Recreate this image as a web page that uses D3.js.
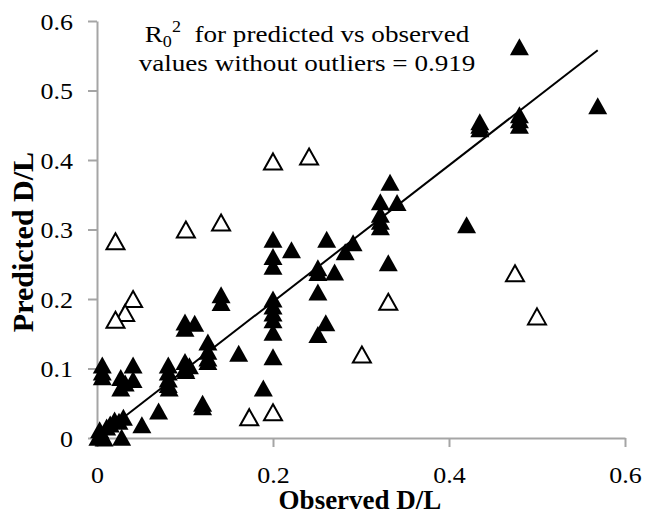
<!DOCTYPE html>
<html lang="en">
<head>
  <meta charset="UTF-8">
  <title>Predicted vs observed D/L</title>
  <style>
    body { margin: 0; background: #fff; }
    .axis path, .axis line { stroke: #a5a5a5; stroke-width: 2px; }
  </style>
</head>
<body>
  <svg id="chart" width="645" height="514"></svg>

  <script src="https://cdnjs.cloudflare.com/ajax/libs/d3/7.8.5/d3.min.js"></script>
  <script>
    // points kept in the R0² fit (filled triangles): [observed, predicted]
    const includedPoints = [
      [0.001, 0.001], [0.003, 0.012], [0.005, 0.005], [0.008, 0.0], [0.011, 0.016],
      [0.015, 0.02], [0.02, 0.026], [0.025, 0.024], [0.028, 0.001], [0.03, 0.03],
      [0.051, 0.019],
      [0.006, 0.105], [0.006, 0.095], [0.006, 0.088],
      [0.027, 0.087], [0.027, 0.072], [0.032, 0.079], [0.041, 0.084], [0.041, 0.105],
      [0.07, 0.039],
      [0.081, 0.105], [0.081, 0.095], [0.081, 0.085], [0.081, 0.077], [0.082, 0.072],
      [0.1, 0.11], [0.1, 0.1], [0.101, 0.097], [0.105, 0.104],
      [0.1, 0.167], [0.1, 0.158], [0.111, 0.165],
      [0.12, 0.05], [0.12, 0.045],
      [0.126, 0.138], [0.126, 0.125], [0.126, 0.115], [0.126, 0.11],
      [0.141, 0.206], [0.141, 0.195],
      [0.161, 0.122],
      [0.189, 0.072],
      [0.2, 0.286], [0.2, 0.261], [0.2, 0.247], [0.2, 0.2], [0.2, 0.19], [0.2, 0.18],
      [0.2, 0.17], [0.2, 0.152], [0.2, 0.117],
      [0.221, 0.271],
      [0.251, 0.245], [0.251, 0.238], [0.251, 0.21], [0.251, 0.149],
      [0.261, 0.286], [0.26, 0.166],
      [0.27, 0.239],
      [0.282, 0.268],
      [0.291, 0.281],
      [0.322, 0.34], [0.322, 0.322], [0.322, 0.312], [0.322, 0.304],
      [0.333, 0.368], [0.341, 0.339],
      [0.331, 0.252],
      [0.42, 0.307],
      [0.435, 0.455], [0.435, 0.45], [0.435, 0.445],
      [0.48, 0.563], [0.48, 0.465], [0.48, 0.458], [0.48, 0.45],
      [0.569, 0.478]
    ];

    // outliers (open triangles)
    const outlierPoints = [
      [0.021, 0.283], [0.101, 0.3], [0.141, 0.31], [0.2, 0.398], [0.241, 0.405],
      [0.041, 0.2], [0.032, 0.18], [0.021, 0.17],
      [0.173, 0.03], [0.2, 0.037], [0.301, 0.12], [0.331, 0.196],
      [0.475, 0.237], [0.5, 0.175]
    ];

    // zero-intercept trend line endpoints
    const trendLine = [[0, 0], [0.569, 0.558]];

    const xTicks = [0, 0.2, 0.4, 0.6];
    const yTicks = [0, 0.1, 0.2, 0.3, 0.4, 0.5, 0.6];

    const titleLines = ["for predicted vs observed", "values without outliers = 0.919"];

    const serif = "'Liberation Serif', 'Times New Roman', Times, serif";
    const sx = 1.13; // the original's regular text is a little wider than Times

    const svg = d3.select("#chart");
    const x = d3.scaleLinear().domain([0, 0.6]).range([97, 625]);
    const y = d3.scaleLinear().domain([0, 0.6]).range([438, 21]);

    svg.append("rect").attr("width", 645).attr("height", 514).attr("fill", "#fff");

    const fmt = d => d === 0 ? "0" : d3.format(".1f")(d);

    // axes
    svg.append("g")
      .attr("class", "axis")
      .attr("transform", `translate(0,${y(0)})`)
      .call(d3.axisBottom(x).tickValues(xTicks).tickSize(9).tickSizeOuter(0).tickFormat(fmt))
      .call(g => g.selectAll("text")
        .attr("dy", 0).attr("y", 45).attr("x", 0)
        .attr("transform", `scale(${sx},1)`)
        .style("font-family", serif).style("font-size", "23px").style("fill", "#000"));

    svg.append("g")
      .attr("class", "axis")
      .attr("transform", `translate(${x(0)},0)`)
      .call(d3.axisLeft(y).tickValues(yTicks).tickSize(9).tickSizeOuter(0).tickFormat(fmt))
      .call(g => g.selectAll("text")
        .attr("x", -24 / sx).attr("dy", "0.36em")
        .attr("transform", `scale(${sx},1)`)
        .style("font-family", serif).style("font-size", "23px").style("fill", "#000"));

    // trend line
    svg.append("line")
      .attr("x1", x(trendLine[0][0])).attr("y1", y(trendLine[0][1]))
      .attr("x2", x(trendLine[1][0])).attr("y2", y(trendLine[1][1]))
      .attr("stroke", "#000").attr("stroke-width", 2);

    // triangle centred on its bounding box
    const tri = (w, h) => `M0,${-h / 2}L${w / 2},${h / 2}L${-w / 2},${h / 2}Z`;

    svg.append("g").selectAll("path")
      .data(includedPoints)
      .join("path")
      .attr("d", tri(19, 17))
      .attr("transform", d => `translate(${x(d[0])},${y(d[1])})`)
      .attr("fill", "#000");

    svg.append("g").selectAll("path")
      .data(outlierPoints)
      .join("path")
      .attr("d", tri(18, 16))
      .attr("transform", d => `translate(${x(d[0])},${y(d[1])})`)
      .attr("fill", "#fff")
      .attr("stroke", "#000")
      .attr("stroke-width", 2);

    // annotation
    const title = svg.append("text")
      .attr("text-anchor", "middle")
      .attr("transform", `translate(307,0) scale(${sx},1)`)
      .style("font-family", serif).style("font-size", "24px").style("fill", "#000");
    const l1 = title.append("tspan").attr("x", 0).attr("y", 42);
    l1.append("tspan").text("R");
    l1.append("tspan").style("font-size", "16px").attr("dy", 5).text("0");
    l1.append("tspan").style("font-size", "16px").attr("dy", -15).text("2");
    l1.append("tspan").attr("dy", 10).text("\u00a0 " + titleLines[0]);
    title.append("tspan").attr("x", 0).attr("y", 71).text(titleLines[1]);

    // axis titles
    svg.append("text")
      .attr("text-anchor", "middle")
      .attr("x", 360).attr("y", 509)
      .style("font-family", serif).style("font-size", "27px").style("font-weight", "bold")
      .text("Observed D/L");

    svg.append("text")
      .attr("text-anchor", "middle")
      .attr("transform", "translate(33,242) rotate(-90)")
      .style("font-family", serif).style("font-size", "30px").style("font-weight", "bold")
      .text("Predicted D/L");
  </script>
</body>
</html>
